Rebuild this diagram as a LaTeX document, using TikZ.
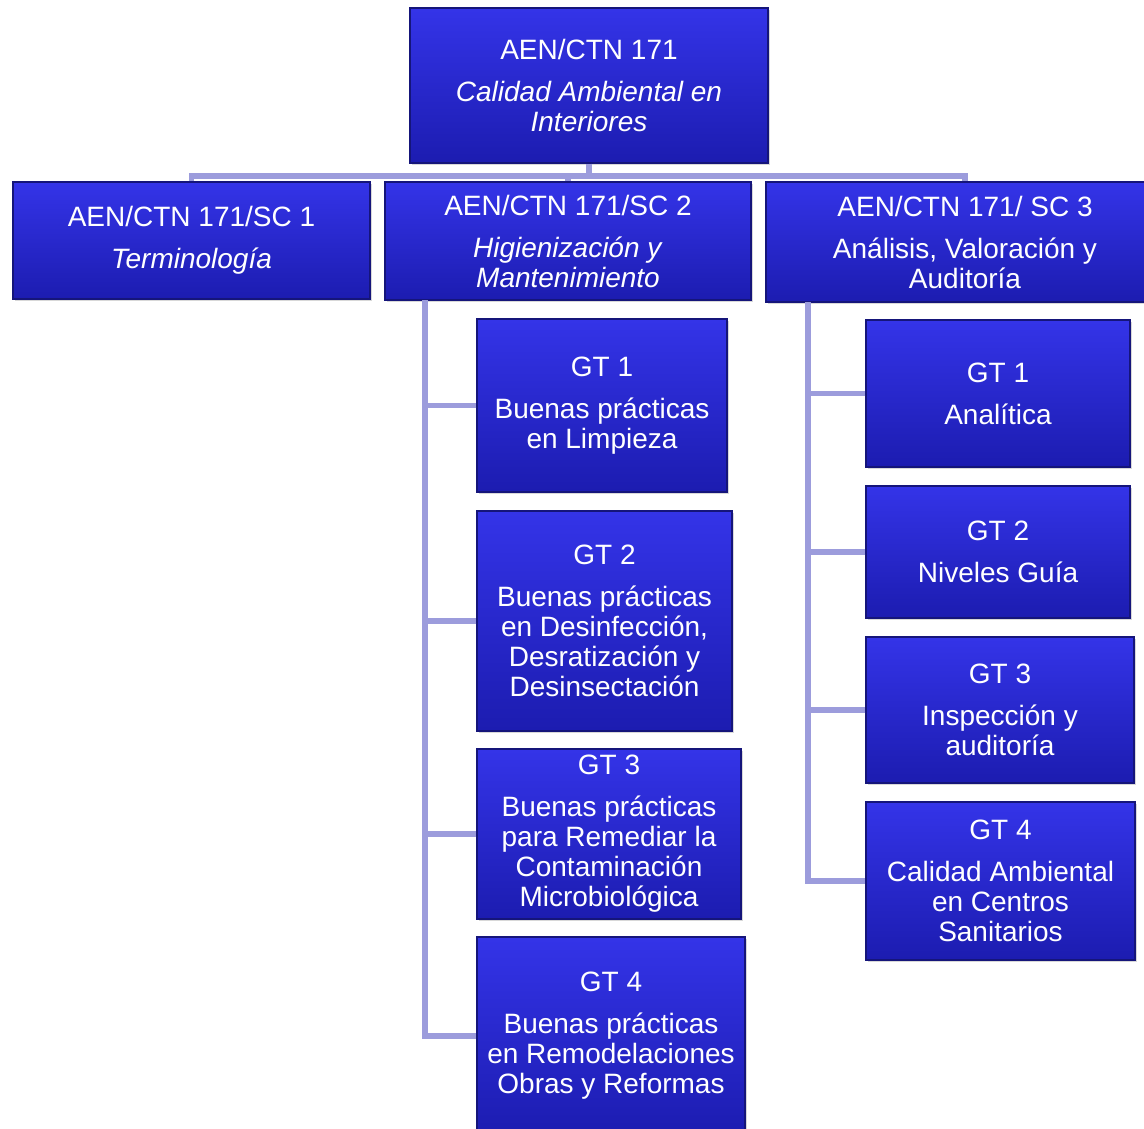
\documentclass[tikz,border=0pt]{standalone}
\usepackage{fontspec}
\setmainfont{Liberation Sans}
\usetikzlibrary{shadows}

\definecolor{boxtop}{HTML}{3434E8}
\definecolor{boxbot}{HTML}{1C1CB0}
\definecolor{boxedge}{HTML}{15157A}
\definecolor{linklav}{HTML}{9C9CDC}

\tikzset{
  orgbox/.style={draw=boxedge, line width=1.5pt, top color=boxtop, bottom color=boxbot,
    text=white, align=center, inner sep=0pt, font=\fontsize{28}{30}\selectfont,
    drop shadow={shadow xshift=2pt, shadow yshift=-2pt, fill=gray!60}},
  branch/.style={draw=linklav, line width=5.5pt},
}

\begin{document}
\begin{tikzpicture}[x=1pt, y=-1pt]
    \useasboundingbox (0,0) rectangle (1144,1129);

    % Comite and subcomites
    \node[orgbox, minimum width=358pt, minimum height=155pt] (ctn) at (589,85.5)
        {AEN/CTN 171\\[12pt]\textit{Calidad Ambiental en}\\\textit{Interiores}};
    \node[orgbox, minimum width=357pt, minimum height=117pt] (sc1) at (191.5,240.5)
        {AEN/CTN 171/SC 1\\[12pt]\textit{Terminología}};
    \node[orgbox, minimum width=366pt, minimum height=118pt] (sc2) at (568,241)
        {AEN/CTN 171/SC 2\\[12pt]\textit{Higienización y}\\\textit{Mantenimiento}};
    \node[orgbox, minimum width=398pt, minimum height=120pt] (sc3) at (965,242)
        {AEN/CTN 171/ SC 3\\[12pt]Análisis, Valoración y\\Auditoría};

    % Grupos de trabajo SC 2
    \node[orgbox, minimum width=250pt, minimum height=173pt] (hg1) at (602,405.5)
        {GT 1\\[12pt]Buenas prácticas\\en Limpieza};
    \node[orgbox, minimum width=255pt, minimum height=220pt] (hg2) at (604.5,621)
        {GT 2\\[12pt]Buenas prácticas\\en Desinfección,\\Desratización y\\Desinsectación};
    \node[orgbox, minimum width=264pt, minimum height=170pt] (hg3) at (609,834)
        {GT 3\\[12pt]Buenas prácticas\\para Remediar la\\Contaminación\\Microbiológica};
    \node[orgbox, minimum width=268pt, minimum height=198pt] (hg4) at (611,1036)
        {GT 4\\[12pt]Buenas prácticas\\en Remodelaciones\\Obras y Reformas};

    % Grupos de trabajo SC 3
    \node[orgbox, minimum width=264pt, minimum height=147pt] (av1) at (998,393.5)
        {GT 1\\[12pt]Analítica};
    \node[orgbox, minimum width=264pt, minimum height=132pt] (av2) at (998,552)
        {GT 2\\[12pt]Niveles Guía};
    \node[orgbox, minimum width=268pt, minimum height=146pt] (av3) at (1000,710)
        {GT 3\\[12pt]Inspección y\\auditoría};
    \node[orgbox, minimum width=269pt, minimum height=158pt] (av4) at (1000.5,881)
        {GT 4\\[12pt]Calidad Ambiental\\en Centros\\Sanitarios};

    % Lines from the comite to the subcomites
    \coordinate (bus) at (589,176);
    \draw[branch] (ctn.south) -- (bus);
    \foreach \s in {sc1, sc2, sc3} {
        \draw[branch] (\s.north) |- (bus);
    }

    % Spines down to the grupos
    \coordinate (sp2) at (425,300);
    \coordinate (sp3) at (808,302);
    \draw[branch] (sp2) |- (hg4.west);
    \foreach \g in {hg1, hg2, hg3} {
        \draw[branch] (\g.west) -- (\g.west -| sp2);
    }
    \draw[branch] (sp3) |- (av4.west);
    \foreach \g in {av1, av2, av3} {
        \draw[branch] (\g.west) -- (\g.west -| sp3);
    }
\end{tikzpicture}
\end{document}
